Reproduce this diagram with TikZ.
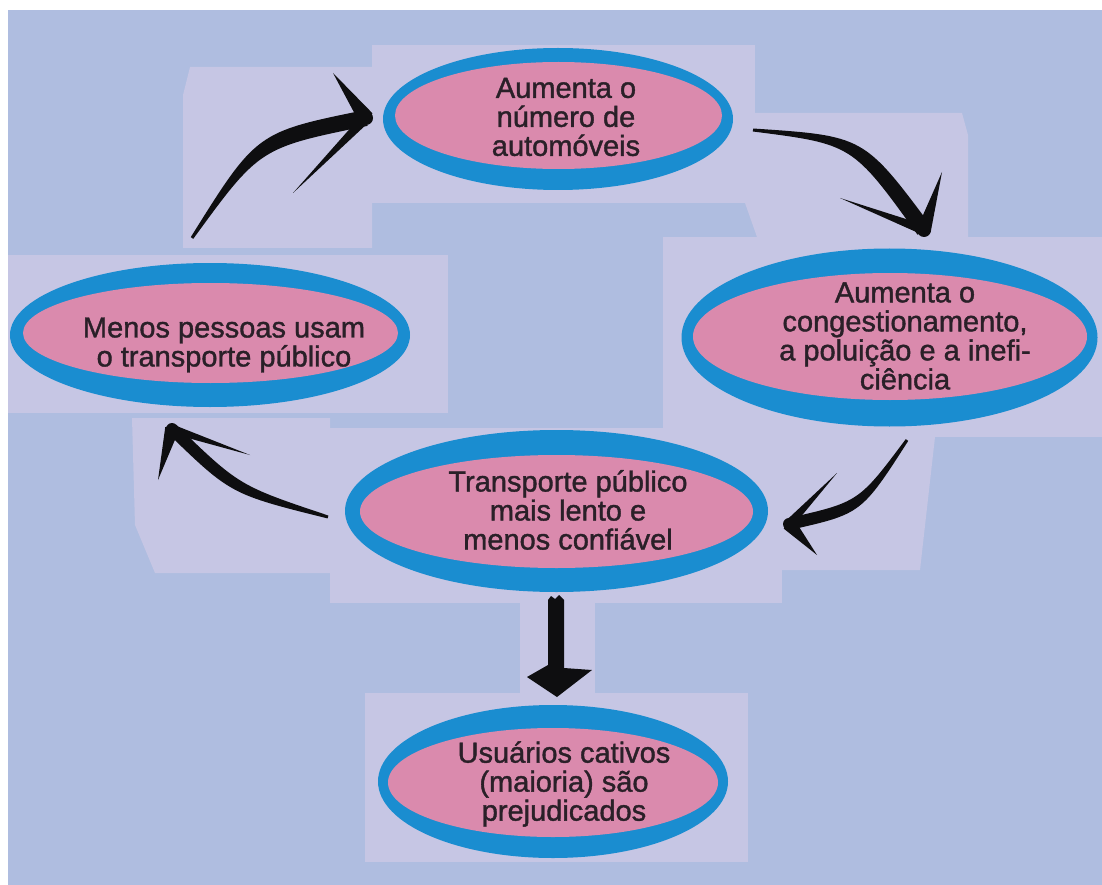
\documentclass[tikz,border=0pt]{standalone}
\usepackage{fontspec}
\setmainfont[FakeBold=1.3]{Liberation Sans}
\usetikzlibrary{shapes.geometric,calc}
\definecolor{bgc}{HTML}{AFBDE0}
\definecolor{panelc}{HTML}{C6C6E4}
\definecolor{pinkc}{HTML}{DA8AAD}
\definecolor{ringc}{HTML}{1A8DD0}
\definecolor{inkc}{HTML}{0E0E10}
\definecolor{txtc}{HTML}{2A2028}
% tapered brush shaft: #1 tail, #2 control, #3 head end, #4 half width at head, #5 half width at control, #6 half width at tail
\newcommand{\brushshaft}[6]{\fill[inkc] ($(#1)!#6!-90:(#2)$) .. controls ($(#2)!#5!-90:(#3)$) .. ($(#3)!#4!90:(#2)$) -- ($(#3)!#4!-90:(#2)$) .. controls ($(#2)!#5!90:(#3)$) .. ($(#1)!#6!90:(#2)$) -- cycle;}
% barb: #1 base point, #2 end point, #3 half width at base
\newcommand{\brushbarb}[3]{\fill[inkc] (#2) -- ($(#1)!#3!90:(#2)$) -- ($(#1)!-4pt!(#2)$) -- ($(#1)!#3!-90:(#2)$) -- cycle;}
\tikzset{
  panel/.style={fill=panelc},
  ringE/.style={ellipse, fill=ringc, inner sep=0pt, draw=none},
  pinkE/.style={ellipse, fill=pinkc, inner sep=0pt, draw=none},
  lbl/.style={align=center, text=txtc, inner sep=0pt, font=\fontsize{29}{29}\selectfont},
}
\begin{document}
\begin{tikzpicture}[x=1pt,y=-1pt]
\useasboundingbox (0,0) rectangle (1102,885);
\fill[white] (0,0) rectangle (1102,885);
\fill[bgc] (8,10) rectangle (1102,885);
% panels
\fill[panel] (372,45) rectangle (755,203);
\fill[panel] (190,67) -- (372,67) -- (372,248) -- (183,248) -- (183,95) -- cycle;
\fill[panel] (745,113) -- (962,113) -- (968,135) -- (968,237) -- (757,237) -- (745,203) -- cycle;
\fill[panel] (663,237) rectangle (1102,437);
\fill[panel] (8,255) rectangle (448,413);
\fill[panel] (132,418) -- (330,418) -- (330,573) -- (155,573) -- (135,525) -- cycle;
\fill[panel] (330,428) rectangle (782,603);
\fill[panel] (778,437) -- (935,437) -- (920,570) -- (778,570) -- cycle;
\fill[panel] (520,603) rectangle (595,695);
\fill[panel] (365,693) rectangle (748,862);
% ellipses
\node[ringE, minimum width=350pt, minimum height=142pt] (topE) at (558,119) {};
\node[pinkE, minimum width=327pt, minimum height=107pt] (topI) at (558.5,115.5) {};
\node[ringE, minimum width=416pt, minimum height=178pt] (rightE) at (889.5,337.5) {};
\node[pinkE, minimum width=394pt, minimum height=127pt] (rightI) at (890,336.5) {};
\node[ringE, minimum width=400pt, minimum height=144pt] (leftE) at (210,335) {};
\node[pinkE, minimum width=375pt, minimum height=100pt] (leftI) at (210.5,333) {};
\node[ringE, minimum width=423pt, minimum height=162pt] (midE) at (556.5,511) {};
\node[pinkE, minimum width=393pt, minimum height=113pt] (midI) at (556.5,511.5) {};
\node[ringE, minimum width=350pt, minimum height=153pt] (botE) at (553,781.5) {};
\node[pinkE, minimum width=330pt, minimum height=109pt] (botI) at (553,782.5) {};
% labels
\node[lbl] (topT) at (566,117) {Aumenta o\\número de\\automóveis};
\node[lbl] (rightT) at (905,336) {Aumenta o\\congestionamento,\\a poluição e a inefi-\\ciência};
\node[lbl] (leftT) at (224,345) {Menos pessoas usam\\o transporte público};
\node[lbl] (midT) at (568,510) {Transporte público\\mais lento e\\menos confiável};
\node[lbl] (botT) at (564,784) {Usuários cativos\\(maioria) são\\prejudicados};
% arrow coordinates
\coordinate (a1t) at (192,238); \coordinate (a1q) at (258,140); \coordinate (a1p) at (366,118);
\coordinate (a1u) at (333,73);  \coordinate (a1l) at (293,193);
\coordinate (a2t) at (753,130); \coordinate (a2q) at (858,140); \coordinate (a2p) at (924,230);
\coordinate (a2u) at (942,172); \coordinate (a2l) at (840,198);
\coordinate (a3t) at (907,440); \coordinate (a3q) at (860,508); \coordinate (a3p) at (789,524);
\coordinate (a3u) at (837,473); \coordinate (a3l) at (817,555);
\coordinate (a4t) at (328,517); \coordinate (a4q) at (235,490); \coordinate (a4p) at (172,429);
\coordinate (a4u) at (250,455); \coordinate (a4l) at (158,480);
% arrow 1: left -> top
\brushshaft{a1t}{a1q}{a1p}{8pt}{8pt}{1.5pt}
\brushbarb{a1p}{a1u}{8pt}
\brushbarb{a1p}{a1l}{5pt}
\fill[inkc] (a1p) circle (7pt);
% arrow 2: top -> right
\brushshaft{a2t}{a2q}{a2p}{8pt}{7pt}{1.5pt}
\brushbarb{a2p}{a2u}{7pt}
\brushbarb{a2p}{a2l}{5pt}
\fill[inkc] (a2p) circle (7pt);
% arrow 3: right -> middle
\brushshaft{a3t}{a3q}{a3p}{6pt}{6pt}{1.5pt}
\brushbarb{a3p}{a3u}{4.5pt}
\brushbarb{a3p}{a3l}{7pt}
\fill[inkc] (a3p) circle (6pt);
% arrow 4: middle -> left
\brushshaft{a4t}{a4q}{a4p}{6pt}{6pt}{1.5pt}
\brushbarb{a4p}{a4u}{4.5pt}
\brushbarb{a4p}{a4l}{7pt}
\fill[inkc] (a4p) circle (6pt);
% arrow 5: middle -> bottom
\coordinate (a5s) at (556,597);
\coordinate (a5p) at (557,697);
\fill[inkc] (548,600) -- (551,596) -- (555,599) -- (559,595) -- (564,600) -- (564,668) -- (592,670) -- (a5p) -- (527,677) -- (548,665) -- cycle;
\end{tikzpicture}
\end{document}
